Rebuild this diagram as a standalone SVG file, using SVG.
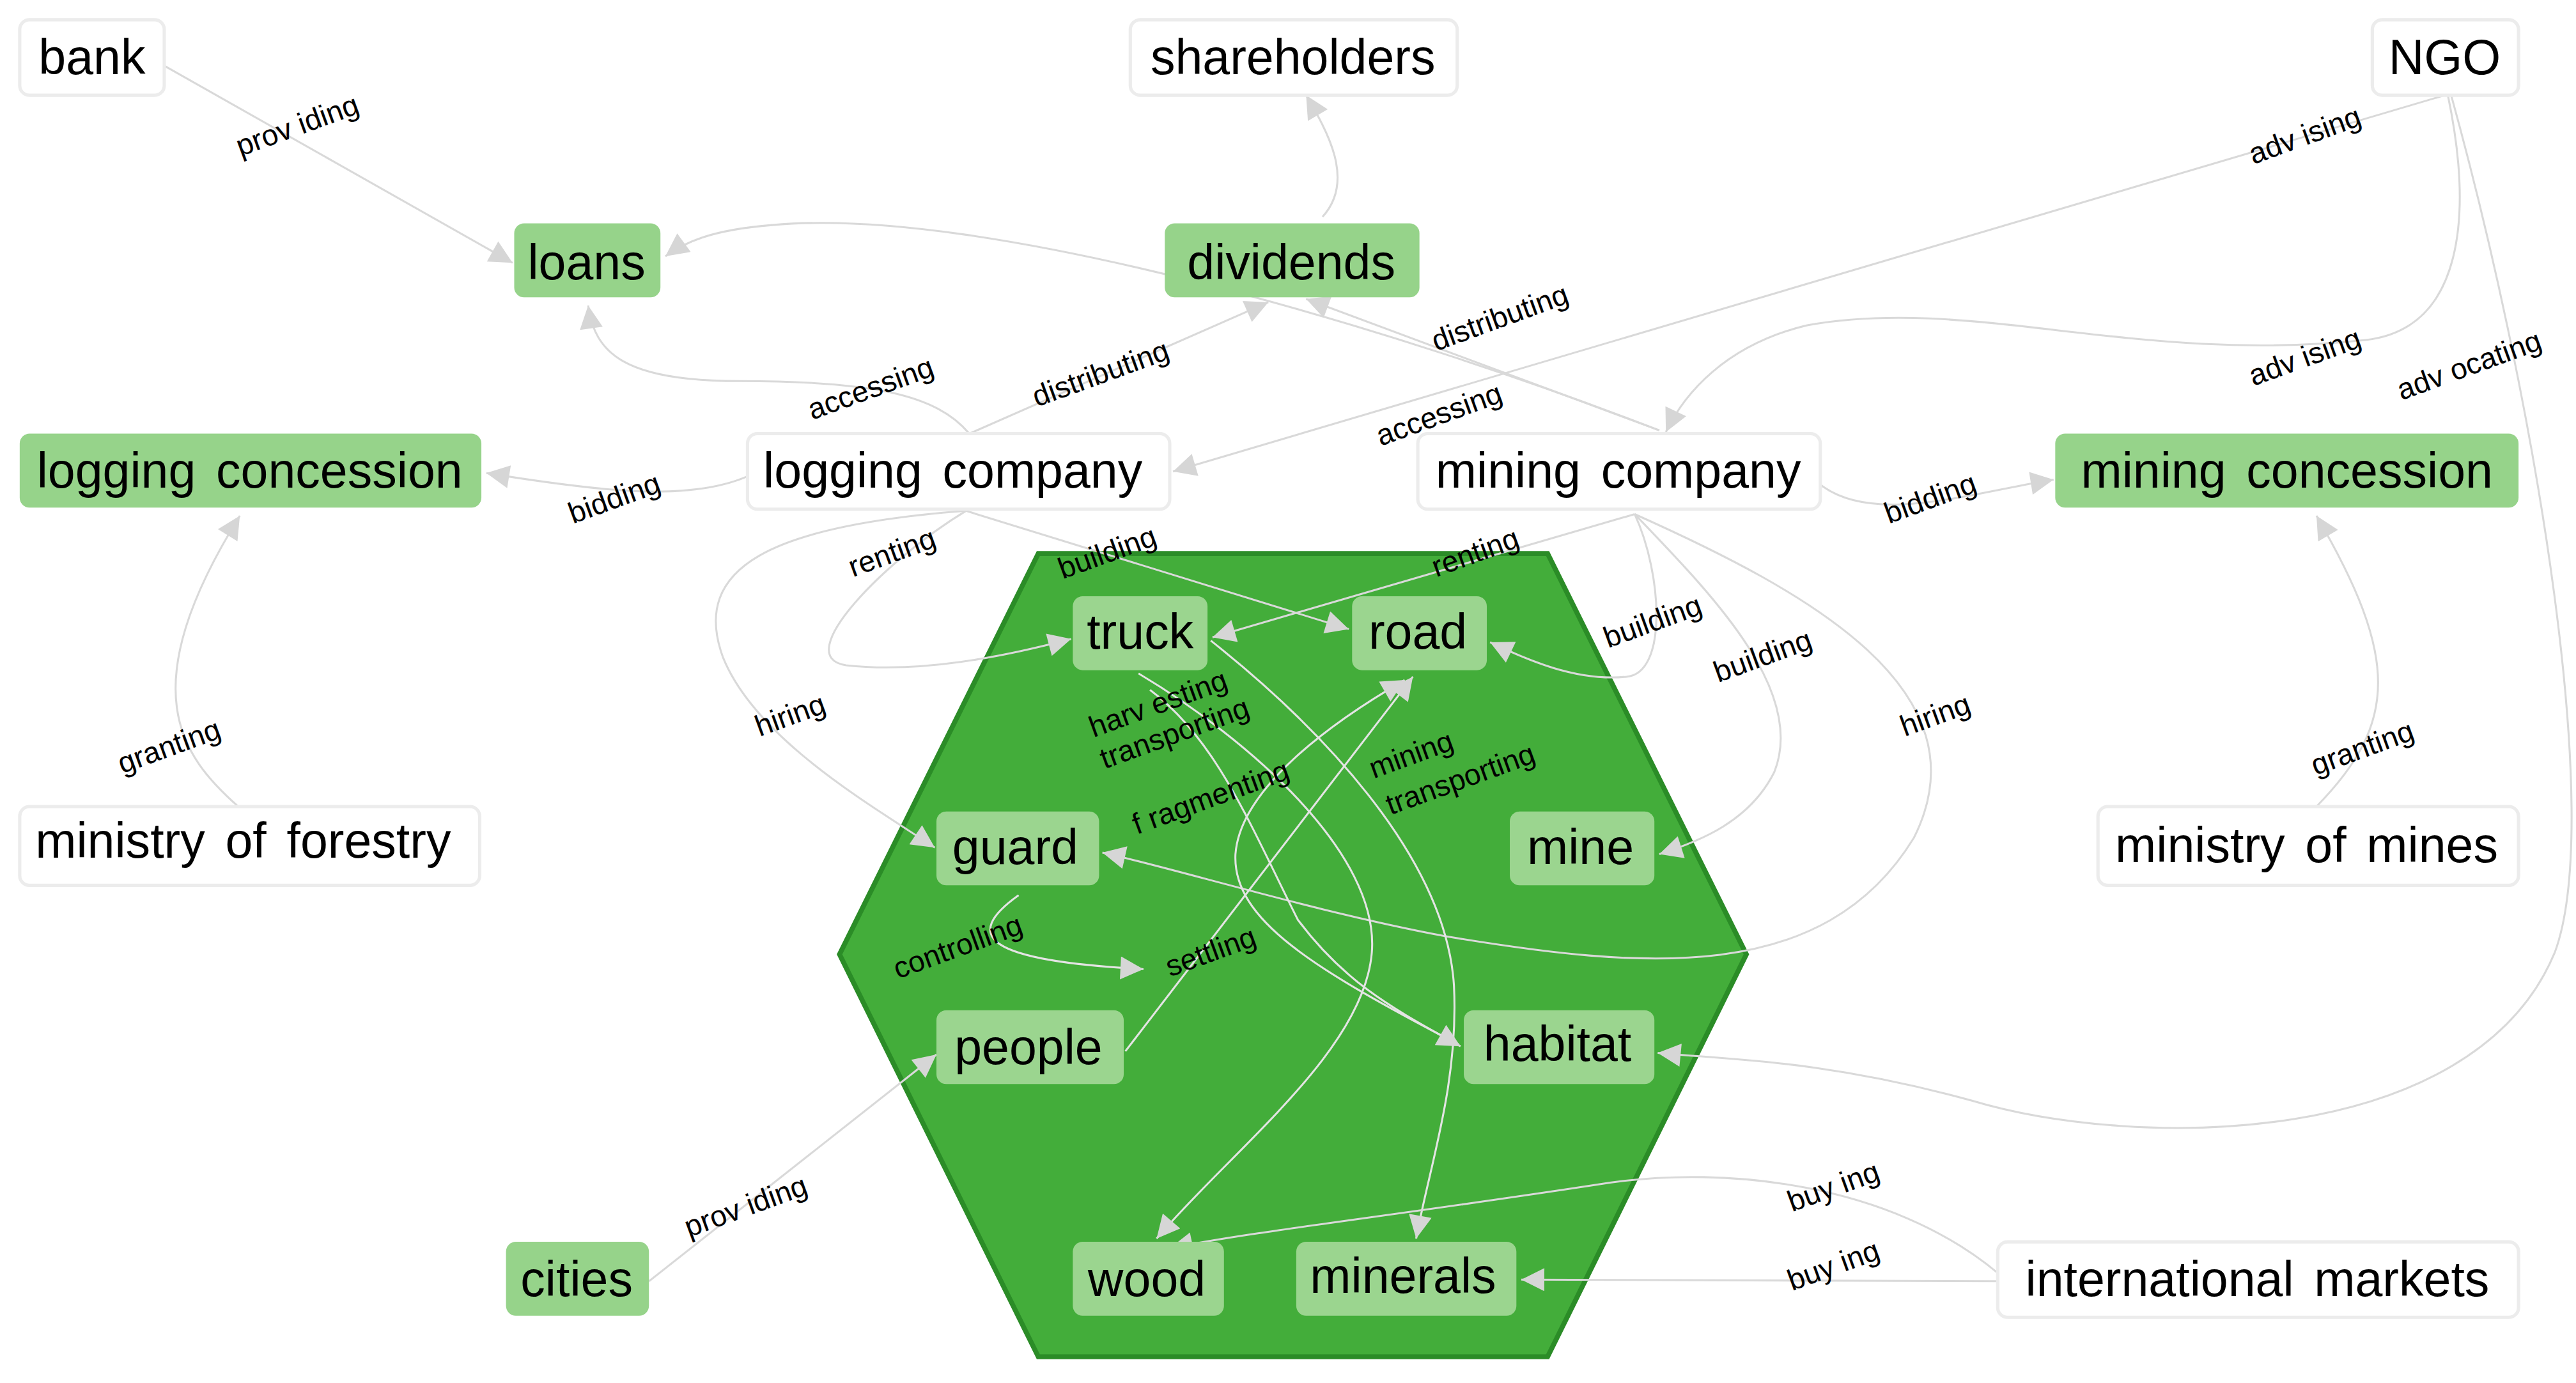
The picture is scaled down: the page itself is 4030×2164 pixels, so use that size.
<svg xmlns="http://www.w3.org/2000/svg" width="4030" height="2164" viewBox="0 0 4030 2164">
<defs>
<marker id="ah" viewBox="0 0 10 10" refX="10" refY="5" markerWidth="18" markerHeight="14" markerUnits="userSpaceOnUse" orient="auto"><path d="M0,0 L10,5 L0,10 z" fill="#d6d6d6"/></marker>
<style>
.w{fill:#fff;stroke:#ececec;stroke-width:2}
.g{fill:#96d38a}
.gi{fill:#9bd58f}
.t{font-family:"Liberation Sans",Arial,sans-serif;font-size:30px;fill:#000;text-anchor:middle;word-spacing:4px}
.l{font-family:"Liberation Sans",Arial,sans-serif;font-size:18px;fill:#000;text-anchor:middle}
.e{fill:none;stroke:#d9d9d9;stroke-width:1.2;marker-end:url(#ah)}
.ei{fill:none;stroke:#e4e4e4;stroke-width:1.2;marker-end:url(#ah)}
</style>
</defs>
<rect width="4030" height="2164" fill="#fff"/>
<g transform="scale(2.5702)">
<polygon id="forest" points="632,337 942,337 1063,581 942,826 632,826 511,581" fill="#43ad3a" stroke="#2b8c27" stroke-width="3"/>
<g id="connectors">
<path class="e" d="M100,40 L312,160"/>
<path class="e" d="M805,132 C825,110 808,80 795,58"/>
<path class="e" d="M590,264 C570,240 530,232 450,232 C380,232 362,215 358,186"/>
<path class="e" d="M590,264 L772,184"/>
<path class="e" d="M1010,262 C850,200 600,125 470,137 C432,140 416,148 405,156"/>
<path class="e" d="M1010,262 L795,182"/>
<path class="e" d="M1488,58 L714,287"/>
<path class="e" d="M1490,58 C1505,130 1500,200 1440,207 C1300,222 1200,180 1100,198 C1050,210 1025,240 1014,263"/>
<path class="e" d="M1492,58 C1545,250 1585,500 1555,580 C1505,700 1300,700 1200,670 C1110,645 1050,645 1009,641"/>
<path class="e" d="M455,290 C420,305 370,300 296,288"/>
<path class="e" d="M1108,295 C1140,320 1200,300 1250,292"/>
<path class="e" d="M145,491 C110,460 80,420 146,314"/>
<path class="e" d="M1410,491 C1460,440 1460,400 1410,314"/>
<path class="e" d="M588,311 C540,340 480,400 515,405 C560,410 610,400 652,389"/>
<path class="e" d="M588,311 L821,383"/>
<path class="e" d="M588,311 C470,320 420,345 440,400 C460,450 530,490 569,516"/>
<path class="e" d="M995,313 L738,388"/>
<path class="e" d="M995,313 C1012,350 1015,410 990,412 C960,415 930,402 907,391"/>
<path class="e" d="M995,313 C1040,360 1100,420 1080,470 C1065,500 1035,512 1010,520"/>
<path class="e" d="M995,313 C1100,360 1210,420 1165,510 C1110,600 1000,590 880,570 C800,555 720,530 671,519"/>
<path class="ei" d="M737,390 C800,440 880,520 885,600 C888,660 870,710 862,754"/>
<path class="ei" d="M693,410 C760,450 840,520 835,580 C830,640 750,700 704,754"/>
<path class="ei" d="M888,636 C800,590 750,560 752,520 C755,480 810,440 855,414"/>
<path class="ei" d="M685,640 L860,412"/>
<path class="ei" d="M700,420 C740,450 760,500 790,560 C820,600 850,615 889,637"/>
<path class="ei" d="M620,545 C585,570 600,585 696,590"/>
<path class="e" d="M1216,775 C1150,720 1050,710 980,720 C850,740 760,750 712,760"/>
<path class="e" d="M1216,780 L926,779"/>
<path class="e" d="M395,780 L570,642"/>
</g>
<g id="labels">
<text class="l" transform="translate(183,82) rotate(-20)">prov iding</text>
<text class="l" transform="translate(532,242) rotate(-20)">accessing</text>
<text class="l" transform="translate(672,233) rotate(-20)">distributing</text>
<text class="l" transform="translate(878,258) rotate(-20)">accessing</text>
<text class="l" transform="translate(915,199) rotate(-20)">distributing</text>
<text class="l" transform="translate(1405,88) rotate(-20)">adv ising</text>
<text class="l" transform="translate(1405,223) rotate(-20)">adv ising</text>
<text class="l" transform="translate(1505,228) rotate(-20)">adv ocating</text>
<text class="l" transform="translate(376,309) rotate(-20)">bidding</text>
<text class="l" transform="translate(1177,309) rotate(-20)">bidding</text>
<text class="l" transform="translate(105,460) rotate(-20)">granting</text>
<text class="l" transform="translate(1440,461) rotate(-20)">granting</text>
<text class="l" transform="translate(545,342) rotate(-20)">renting</text>
<text class="l" transform="translate(676,342) rotate(-20)">building</text>
<text class="l" transform="translate(900,342) rotate(-20)">renting</text>
<text class="l" transform="translate(1008,384) rotate(-20)">building</text>
<text class="l" transform="translate(1075,405) rotate(-20)">building</text>
<text class="l" transform="translate(483,441) rotate(-20)">hiring</text>
<text class="l" transform="translate(1180,441) rotate(-20)">hiring</text>
<text class="l" transform="translate(707,434) rotate(-20)">harv esting</text>
<text class="l" transform="translate(717,452) rotate(-20)">transporting</text>
<text class="l" transform="translate(739,491) rotate(-20)">f ragmenting</text>
<text class="l" transform="translate(861,465) rotate(-20)">mining</text>
<text class="l" transform="translate(891,480) rotate(-20)">transporting</text>
<text class="l" transform="translate(585,582) rotate(-20)">controlling</text>
<text class="l" transform="translate(739,585) rotate(-20)">settling</text>
<text class="l" transform="translate(456,740) rotate(-20)">prov iding</text>
<text class="l" transform="translate(1118,728) rotate(-20)">buy ing</text>
<text class="l" transform="translate(1118,776) rotate(-20)">buy ing</text>
</g>
<g id="bank"><rect class="w" x="12" y="12" width="88" height="46" rx="6"/><text class="t" x="56" y="45">bank</text></g>
<g id="shareholders"><rect class="w" x="688" y="12" width="199" height="46" rx="6"/><text class="t" x="787" y="45">shareholders</text></g>
<g id="NGO"><rect class="w" x="1444" y="12" width="89" height="46" rx="6"/><text class="t" x="1488" y="45">NGO</text></g>
<g id="loans"><rect class="g" x="313" y="136" width="89" height="45" rx="6"/><text class="t" x="357" y="170">loans</text></g>
<g id="dividends"><rect class="g" x="709" y="136" width="155" height="45" rx="6"/><text class="t" x="786" y="170">dividends</text></g>
<g id="logging_concession"><rect class="g" x="12" y="264" width="281" height="45" rx="6"/><text class="t" x="152" y="297">logging concession</text></g>
<g id="logging_company"><rect class="w" x="455" y="264" width="257" height="46" rx="6"/><text class="t" x="580" y="297">logging company</text></g>
<g id="mining_company"><rect class="w" x="863" y="264" width="245" height="46" rx="6"/><text class="t" x="985" y="297">mining company</text></g>
<g id="mining_concession"><rect class="g" x="1251" y="264" width="282" height="45" rx="6"/><text class="t" x="1392" y="297">mining concession</text></g>
<g id="ministry_of_forestry"><rect class="w" x="12" y="491" width="280" height="48" rx="6"/><text class="t" x="148" y="522">ministry of forestry</text></g>
<g id="ministry_of_mines"><rect class="w" x="1277" y="491" width="256" height="48" rx="6"/><text class="t" x="1404" y="525">ministry of mines</text></g>
<g id="cities"><rect class="g" x="308" y="756" width="87" height="45" rx="6"/><text class="t" x="351" y="789">cities</text></g>
<g id="international_markets"><rect class="w" x="1216" y="756" width="317" height="46" rx="6"/><text class="t" x="1374" y="789">international markets</text></g>
<g id="truck"><rect class="gi" x="653" y="363" width="82" height="45" rx="6"/><text class="t" x="694" y="395">truck</text></g>
<g id="road"><rect class="gi" x="823" y="363" width="82" height="45" rx="6"/><text class="t" x="863" y="395">road</text></g>
<g id="guard"><rect class="gi" x="570" y="494" width="99" height="45" rx="6"/><text class="t" x="618" y="526">guard</text></g>
<g id="mine"><rect class="gi" x="919" y="494" width="88" height="45" rx="6"/><text class="t" x="962" y="526">mine</text></g>
<g id="people"><rect class="gi" x="570" y="615" width="114" height="45" rx="6"/><text class="t" x="626" y="648">people</text></g>
<g id="habitat"><rect class="gi" x="891" y="615" width="116" height="45" rx="6"/><text class="t" x="948" y="646">habitat</text></g>
<g id="wood"><rect class="gi" x="653" y="756" width="92" height="45" rx="6"/><text class="t" x="698" y="789">wood</text></g>
<g id="minerals"><rect class="gi" x="789" y="756" width="134" height="45" rx="6"/><text class="t" x="854" y="787">minerals</text></g>
</g>
</svg>
